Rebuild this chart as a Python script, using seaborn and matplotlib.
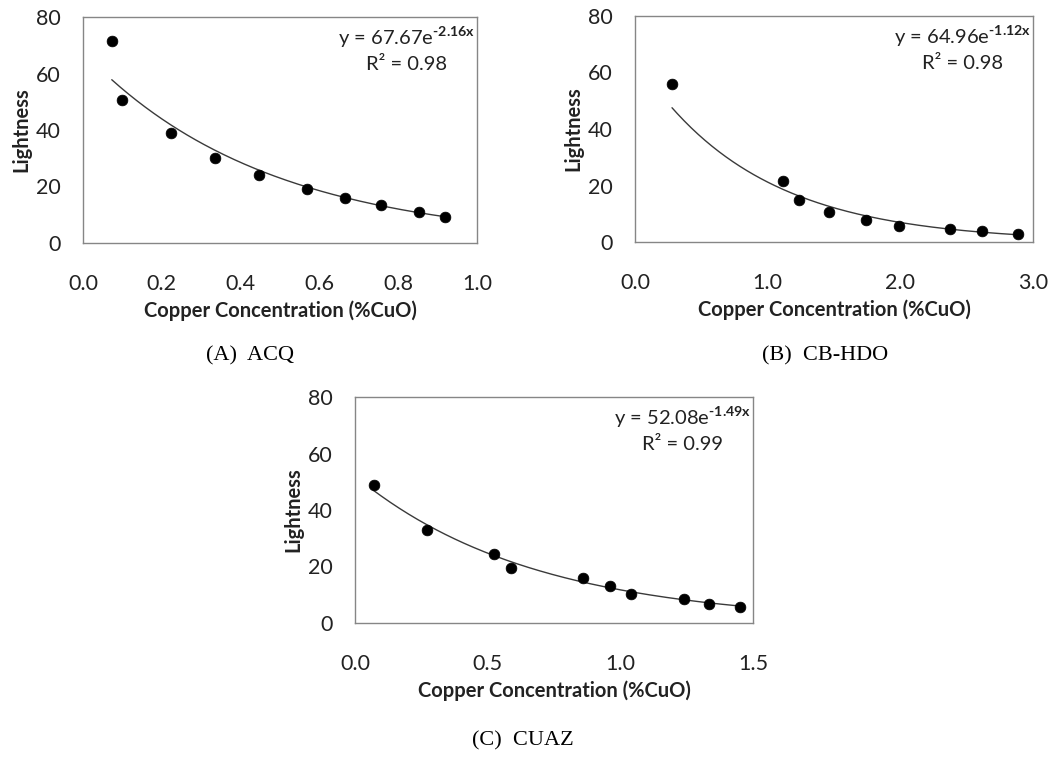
import numpy as np
import pandas as pd
import seaborn as sns
import matplotlib
matplotlib.use("Agg")
import matplotlib.pyplot as plt

# ---- data ----
acq_x = [0.073, 0.100, 0.224, 0.336, 0.447, 0.568, 0.666, 0.757, 0.854, 0.920]
acq_y = [71.6, 50.7, 39.1, 30.0, 24.0, 19.2, 16.0, 13.3, 10.9, 9.2]
acq_fit = (67.67, -2.16)
acq_r2 = "0.98"

cb_x = [0.279, 1.115, 1.235, 1.461, 1.742, 1.989, 2.375, 2.619, 2.885]
cb_y = [56.1, 21.6, 14.8, 10.7, 7.8, 5.8, 4.6, 3.9, 2.9]
cb_fit = (64.96, -1.12)
cb_r2 = "0.98"

cuaz_x = [0.070, 0.272, 0.522, 0.587, 0.859, 0.961, 1.039, 1.240, 1.336, 1.452]
cuaz_y = [48.9, 32.8, 24.5, 19.4, 15.8, 13.0, 10.3, 8.5, 6.8, 5.5]
cuaz_fit = (52.08, -1.49)
cuaz_r2 = "0.99"

captions = ["(A)  ACQ", "(B)  CB-HDO", "(C)  CUAZ"]
xlabel = "Copper Concentration (%CuO)"
ylabel = "Lightness"
y_ticks = [0, 20, 40, 60, 80]
x_ticks_a = [0.0, 0.2, 0.4, 0.6, 0.8, 1.0]
x_ticks_b = [0.0, 1.0, 2.0, 3.0]
x_ticks_c = [0.0, 0.5, 1.0, 1.5]

sns.set_theme(style="white")
plt.rcParams["font.family"] = ["Lato", "DejaVu Sans"]
plt.rcParams["mathtext.fontset"] = "custom"
plt.rcParams["mathtext.rm"] = "Lato"
plt.rcParams["mathtext.bf"] = "Lato:bold"

W, H = 1052, 757
fig = plt.figure(figsize=(W / 100, H / 100), dpi=100)
fig.patch.set_facecolor("white")


def px_axes(left, top, right, bottom):
    return fig.add_axes([left / W, 1 - bottom / H, (right - left) / W, (bottom - top) / H])


def panel(ax, xs, ys, fit, r2, xticks, fmt):
    df = pd.DataFrame({"x": xs, "y": ys})
    a, b = fit
    xf = np.linspace(min(xs), max(xs), 200)
    fdf = pd.DataFrame({"x": xf, "y": a * np.exp(b * xf)})
    sns.lineplot(data=fdf, x="x", y="y", ax=ax, color="#3a3a3a", linewidth=1.0)
    sns.scatterplot(data=df, x="x", y="y", ax=ax, color="black", s=60,
                    edgecolor="black", linewidth=0.5, zorder=3)
    ax.set_xlim(xticks[0], xticks[-1])
    ax.set_ylim(0, 80)
    ax.set_xticks(xticks)
    ax.set_xticklabels([fmt.format(t) for t in xticks])
    ax.set_yticks(y_ticks)
    ax.tick_params(axis="both", which="both", direction="out", length=6,
                   width=1.0, color="#868686", labelsize=15.5, labelcolor="#222222")
    ax.tick_params(axis="x", pad=16)
    ax.tick_params(axis="y", pad=10)
    for s in ax.spines.values():
        s.set_color("#868686")
        s.set_linewidth(1.0)
    ax.set_xlabel(xlabel, fontsize=14.5, fontweight="bold", color="#222222", labelpad=5)
    ax.set_ylabel(ylabel, fontsize=14.5, fontweight="bold", color="#222222", labelpad=3)
    exp_txt = "{:.2f}x".format(b).replace("-", "\u2010")
    eq = "y = {:.2f}e$^{{\\mathbf{{{}}}}}$\nR² = {}".format(a, exp_txt, r2)
    ax.text(0.995, 0.965, eq, transform=ax.transAxes, ha="right", va="top",
            multialignment="center", fontsize=14.5, color="#222222", linespacing=1.45)


axA = px_axes(83, 17, 477, 243)
panel(axA, acq_x, acq_y, acq_fit, acq_r2, x_ticks_a, "{:.1f}")
axB = px_axes(635, 16, 1033, 242)
panel(axB, cb_x, cb_y, cb_fit, cb_r2, x_ticks_b, "{:.1f}")
axC = px_axes(355, 397, 753, 623)
panel(axC, cuaz_x, cuaz_y, cuaz_fit, cuaz_r2, x_ticks_c, "{:.1f}")

cap_pos = [(250, 356), (825, 356), (523, 741)]
for txt, (cx, cy) in zip(captions, cap_pos):
    fig.text(cx / W, 1 - cy / H, txt, ha="center", va="center",
             fontsize=16, family=["Liberation Serif", "DejaVu Serif"], color="black")

fig.savefig("out.png", dpi=100, facecolor="white")
